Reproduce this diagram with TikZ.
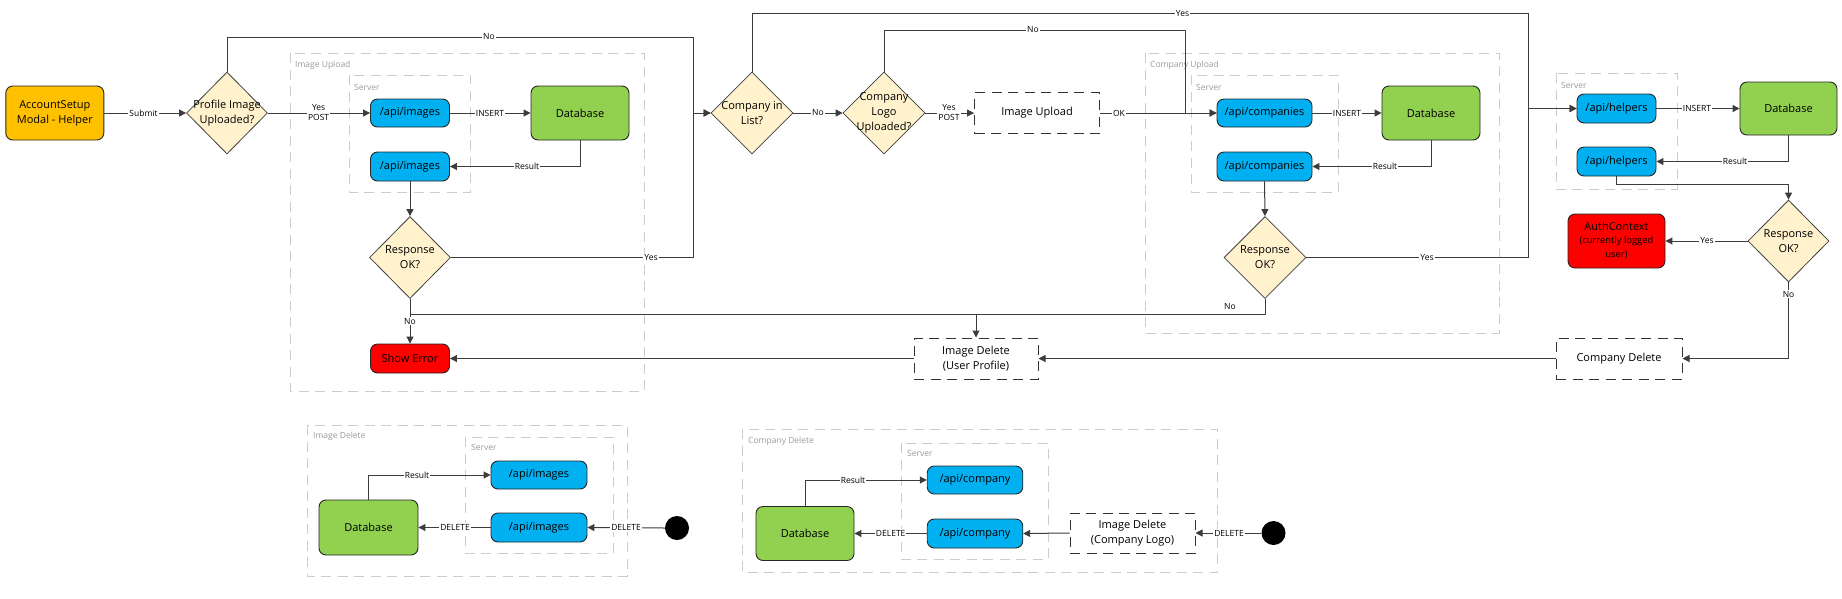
\documentclass[tikz,border=0pt]{standalone}
\usepackage{fontspec}
\setmainfont{Open Sans}
\usetikzlibrary{arrows.meta,calc,shapes.geometric}

\definecolor{orng}{HTML}{FFC000}
\definecolor{dfill}{HTML}{FFF2CC}
\definecolor{blu}{HTML}{00B0F0}
\definecolor{grn}{HTML}{92D050}
\definecolor{redd}{HTML}{FF0000}
\definecolor{grp}{HTML}{CCCCCC}
\definecolor{grptxt}{HTML}{9A9A9A}
\definecolor{edgec}{HTML}{3C3C3C}

\newcommand{\nfont}{\fontsize{11}{15}\selectfont}
\newcommand{\lfont}{\fontsize{8.5}{10}\selectfont}
\newcommand{\sfont}{\fontsize{9.4}{12.5}\selectfont}

\tikzset{
  box/.style={draw=black!85, line width=0.9pt, rounded corners=7pt, inner sep=0pt, align=center, font=\nfont},
  dbbox/.style={box, fill=grn, minimum width=98, minimum height=54},
  apibox/.style={box, fill=blu, minimum height=28},
  redbox/.style={box, fill=redd},
  dec/.style={diamond, draw=black!75, fill=dfill, line width=0.8pt, inner sep=0pt, minimum width=81, minimum height=82},
  dectext/.style={font=\nfont, align=center, inner sep=0pt},
  procbox/.style={draw=black!80, line width=1pt, dash pattern=on 10pt off 6.5pt, fill=white, inner sep=0pt, align=center, font=\nfont, minimum width=125, minimum height=41},
  grpbox/.style={draw=grp, line width=1pt, dash pattern=on 10pt off 6.5pt},
  glbl/.style={font=\lfont, text=grptxt, anchor=west, inner sep=0pt},
  elbl/.style={font=\lfont, fill=white, inner sep=1pt, align=center},
  ln/.style={draw=edgec, line width=1pt},
  arr/.style={draw=edgec, line width=1pt, -{Triangle[length=7pt,width=7pt]}},
  startdot/.style={circle, fill=black, minimum size=24, inner sep=0pt},
}

\begin{document}
\begin{tikzpicture}[x=1pt,y=-1pt]
\useasboundingbox (0,0) rectangle (1842,598);

% ---------- groups ----------
\draw[grpbox] (290,53) rectangle (644,391);
\node[glbl] (g1l) at (295,65) {Image Upload};
\draw[grpbox] (349,75) rectangle (470.5,192);
\node[glbl] (s1l) at (354,87) {Server};

\draw[grpbox] (1145,53) rectangle (1499,333);
\node[glbl] (g2l) at (1150,65) {Company Upload};
\draw[grpbox] (1191.5,75) rectangle (1338,192);
\node[glbl] (s2l) at (1196,87) {Server};

\draw[grpbox] (1556,73) rectangle (1677,189);
\node[glbl] (s3l) at (1561,85) {Server};

\draw[grpbox] (307,425) rectangle (627,576);
\node[glbl] (g3l) at (313,436) {Image Delete};
\draw[grpbox] (465,437) rectangle (613,553);
\node[glbl] (s4l) at (471,447) {Server};

\draw[grpbox] (742.5,429) rectangle (1217.5,572.5);
\node[glbl] (g4l) at (748,441) {Company Delete};
\draw[grpbox] (901,443) rectangle (1048,559);
\node[glbl] (s5l) at (907,453) {Server};

% ---------- nodes ----------
\node[box, fill=orng, minimum width=98, minimum height=54] (acct) at (54.8,113) {AccountSetup\\Modal - Helper};
\node[dec, label={[dectext]center:Profile Image\\Uploaded?}] (d1) at (227,113) {};
\node[apibox, minimum width=79] (api1) at (410,113) {/api/images};
\node[dbbox] (db1) at (580,113) {Database};
\node[apibox, minimum width=79, minimum height=29] (api2) at (410,166.5) {/api/images};
\node[dec, label={[dectext]center:Response\\OK?}] (r1) at (410,257.5) {};
\node[redbox, minimum width=79, minimum height=29] (err) at (410,358.5) {Show Error};

\node[dec, minimum width=82, label={[dectext]center:Company in\\List?}] (d2) at (752,113) {};
\node[dec, minimum width=82, label={[dectext]center:Company\\Logo\\Uploaded?}] (d3) at (884,113) {};
\node[procbox] (iu) at (1037,113) {Image Upload};

\node[apibox, minimum width=95] (api3) at (1264.5,113) {/api/companies};
\node[dbbox] (db2) at (1431,113) {Database};
\node[apibox, minimum width=95, minimum height=29] (api4) at (1264.5,166.5) {/api/companies};
\node[dec, minimum width=82, label={[dectext]center:Response\\OK?}] (r2) at (1265,257.5) {};

\node[apibox, minimum width=79, minimum height=29] (api5) at (1616.5,108.5) {/api/helpers};
\node[dbbox, minimum width=97, minimum height=53] (db3) at (1788.5,108.5) {Database};
\node[apibox, minimum width=79, minimum height=29] (api6) at (1616.5,161.5) {/api/helpers};
\node[dec, label={[dectext]center:Response\\OK?}] (r3) at (1788.5,241) {};
\node[redbox, minimum width=97, minimum height=54] (auth) at (1616.5,241) {AuthContext\\[-2pt]{\sfont (currently logged}\\[-1pt]{\sfont user)}};

\node[procbox, minimum width=126] (cdel) at (1619,358.5) {Company Delete};
\node[procbox, minimum width=124] (idel) at (976,358.5) {Image Delete\\(User Profile)};

% bottom left
\node[apibox, minimum width=96] (api7) at (539,475) {/api/images};
\node[apibox, minimum width=96, minimum height=29] (api8) at (539,527.5) {/api/images};
\node[dbbox, minimum width=99, minimum height=55] (db4) at (368.5,527.5) {Database};
\node[startdot] (c1) at (677,528) {};

% bottom middle
\node[apibox, minimum width=95.5] (api9) at (975,480) {/api/company};
\node[apibox, minimum width=95.5, minimum height=29] (api10) at (975,533.5) {/api/company};
\node[dbbox] (db5) at (805,533.5) {Database};
\node[procbox, minimum height=40] (idel2) at (1132.5,533) {Image Delete\\(Company Logo)};
\node[startdot] (c2) at (1273.5,533) {};

% ---------- junction coordinates ----------
\coordinate (t1) at (693.4,37);
\coordinate (j1) at (693.4,113);
\coordinate (t2) at (1528.5,13.7);
\coordinate (j3) at (1528.5,108.5);
\coordinate (t3) at (1185.7,30);
\coordinate (j2) at (1185.7,113);
\coordinate (jl) at (410,314.5);
\coordinate (jd) at (976,314.5);
\coordinate (h1) at (1616.5,184);
\coordinate (h2) at (1788.5,184);

% ---------- edges ----------
\draw[arr] (acct) -- (d1) node[elbl, pos=0.48] {Submit};
\draw[arr] (d1.north) |- (t1) -- (j1) -- (d2.west);
\node[elbl] (l1) at (489,37) {No};
\draw[arr] (d1.east) -- (api1.west);
\node[elbl] (l2) at (318.6,113) {Yes\\POST};
\draw[arr] (api1.east) -- (db1.west);
\node[elbl] (l3) at (490,113) {INSERT};
\draw[arr] (db1.south) |- (api2.east);
\node[elbl] (l4) at (527,166.5) {Result};
\draw[arr] (api2.south) -- (r1.north);
\draw[arr] (r1.east) -| (j1) -- (d2.west);
\node[elbl] (l5) at (651,257.5) {Yes};
\draw[arr] (r1.south) -- (err.north);
\draw[ln] (r2.south) |- (jl);
\draw[arr] (jd) -- (idel.north);
\node[elbl] (l6) at (410,321) {No};

\draw[arr] (d2.north) |- (t2) -- (j3) -- (api5.west);
\node[elbl] (l7) at (1182.5,13.7) {Yes};
\draw[arr] (d2.east) -- (d3.west);
\node[elbl] (l8) at (818,113) {No};
\draw[arr] (d3.north) |- (t3) -- (j2) -- (api3.west);
\node[elbl] (l9) at (1033,30) {No};
\draw[arr] (d3.east) -- (iu.west);
\node[elbl] (l10) at (949,113) {Yes\\POST};
\draw[arr] (iu.east) -- (api3.west);
\node[elbl] (l11) at (1119,113) {OK};

\draw[arr] (api3.east) -- (db2.west);
\node[elbl] (l12) at (1347,113) {INSERT};
\draw[arr] (db2.south) |- (api4.east);
\node[elbl] (l13) at (1385,166.5) {Result};
\draw[arr] (api4.south) -- (r2.north);
\draw[arr] (r2.east) -| (j3) -- (api5.west);
\node[elbl] (l14) at (1427,257.5) {Yes};
\node[font=\lfont, inner sep=0pt] (l15) at (1230,306.7) {No};

\draw[arr] (api5.east) -- (db3.west);
\node[elbl] (l16) at (1697,108.5) {INSERT};
\draw[arr] (db3.south) |- (api6.east);
\node[elbl] (l17) at (1735,161.5) {Result};
\draw[arr] (api6.south) -- (h1) -- (h2) -- (r3.north);
\draw[arr] (r3.west) -- (auth.east);
\node[elbl] (l18) at (1707,241) {Yes};
\draw[arr] (r3.south) |- (cdel.east);
\node[elbl] (l19) at (1788.5,294) {No};
\draw[arr] (cdel.west) -- (idel.east);
\draw[arr] (idel.west) -- (err.east);

% bottom left edges
\draw[arr] (db4.north) |- (api7.west);
\node[elbl] (l20) at (417,475) {Result};
\draw[arr] (api8.west) -- (db4.east);
\node[elbl] (l21) at (455,527.5) {DELETE};
\draw[arr] (c1.west) -- (api8.east);
\node[elbl] (l22) at (626,527.5) {DELETE};

% bottom middle edges
\draw[arr] (db5.north) |- (api9.west);
\node[elbl] (l23) at (853,480) {Result};
\draw[arr] (api10.west) -- (db5.east);
\node[elbl] (l24) at (890.7,533.5) {DELETE};
\draw[arr] (idel2.west) -- (api10.east);
\draw[arr] (c2.west) -- (idel2.east);
\node[elbl] (l25) at (1229,533) {DELETE};
\end{tikzpicture}
\end{document}
